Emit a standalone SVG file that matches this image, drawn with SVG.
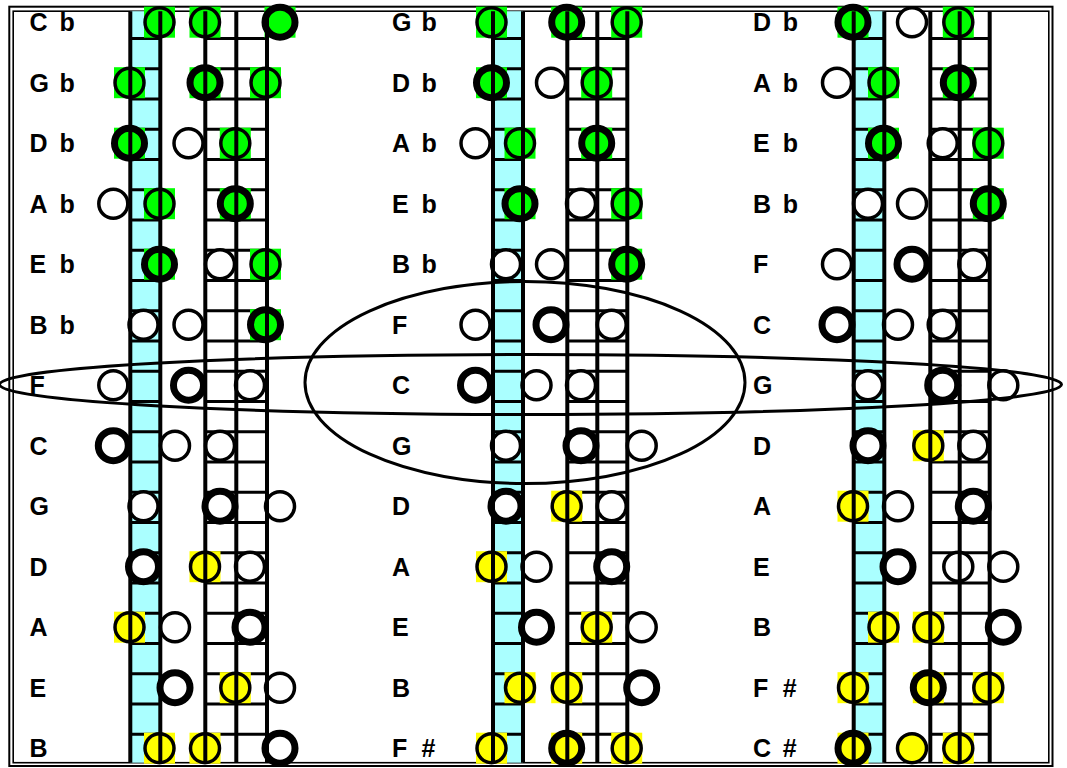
<svg xmlns="http://www.w3.org/2000/svg" xmlns:xlink="http://www.w3.org/1999/xlink" width="1067" height="768" viewBox="0 0 1067 768">
  <style>
    .frame-out{fill:none;stroke:#000;stroke-width:2}
    .frame-in{fill:none;stroke:#000;stroke-width:1.6}
    .lane{fill:#aaffff}
    .fret{fill:none;stroke:#000;stroke-width:3}
    .string{stroke:#000;stroke-width:4}
    .note{font-family:"Liberation Sans",Arial,sans-serif;font-weight:bold;font-size:25px;fill:#000}
    .hole{fill:#fff;stroke:#000;stroke-width:3.5}
    .hole.closed{stroke-width:7}
    .hole.g,.pad.g{fill:#00ff00}
    .hole.y,.pad.y{fill:#ffff00}
    .pad{stroke:none}
    .ring{fill:none;stroke:#000;stroke-width:3}
  </style>
  <defs>
    <!-- one set of cross bars, unit width; each use stretches it horizontally -->
    <path id="frets" class="fret" d="M0 38.5h1M0 68.75h1M0 99h1M0 129.25h1M0 159.5h1M0 189.75h1M0 220h1M0 250.25h1M0 280.5h1M0 310.75h1M0 341h1M0 371.25h1M0 401.5h1M0 431.75h1M0 462h1M0 492.25h1M0 522.5h1M0 552.75h1M0 583h1M0 613.25h1M0 643.5h1M0 673.75h1M0 704h1M0 734.25h1"/>
  </defs>

  <rect width="1067" height="768" fill="#fff"/>

  <!-- double frame -->
  <g id="frame">
    <rect class="frame-out" x="9.3" y="6.7" width="1043.2" height="759.3"/>
    <rect class="frame-in" x="13.2" y="11.2" width="1035.6" height="751.5"/>
  </g>

  <!-- ===== chart 1 : Cb ... B ===== -->
  <g id="chart-1">
    <rect class="lane" x="130.3" y="11.2" width="30" height="751.5"/>
    <use xlink:href="#frets" transform="translate(130.3 0) scale(30 1)"/>
    <use xlink:href="#frets" transform="translate(205.3 0) scale(61.7 1)"/>

    <g id="c1-cb">
      <text class="note" x="29.5" y="31">C</text><text class="note" x="59.5" y="31">b</text>
      <rect class="pad g" x="144" y="6.7" width="31" height="31"/>
      <rect class="pad g" x="189.5" y="6.7" width="31" height="31"/>
      <rect class="pad g" x="264.5" y="6.7" width="31" height="31"/>
      <circle class="hole g" cx="159.5" cy="22.2" r="14.5"/>
      <circle class="hole g" cx="205" cy="22.2" r="14.5"/>
      <circle class="hole g closed" cx="280" cy="22.2" r="15"/>
    </g>
    <g id="c1-gb">
      <text class="note" x="29.5" y="91.5">G</text><text class="note" x="59.5" y="91.5">b</text>
      <rect class="pad g" x="114" y="67.2" width="31" height="31"/>
      <rect class="pad g" x="189.5" y="67.2" width="31" height="31"/>
      <rect class="pad g" x="250" y="67.2" width="31" height="31"/>
      <circle class="hole g" cx="129.5" cy="82.7" r="14.5"/>
      <circle class="hole g closed" cx="205" cy="82.7" r="15"/>
      <circle class="hole g" cx="265.5" cy="82.7" r="14.5"/>
    </g>
    <g id="c1-db">
      <text class="note" x="29.5" y="152">D</text><text class="note" x="59.5" y="152">b</text>
      <rect class="pad g" x="114" y="127.7" width="31" height="31"/>
      <rect class="pad g" x="219.8" y="127.7" width="31" height="31"/>
      <circle class="hole g closed" cx="129.5" cy="143.2" r="15"/>
      <circle class="hole" cx="188.5" cy="143.2" r="14.5"/>
      <circle class="hole g" cx="235.3" cy="143.2" r="14.5"/>
    </g>
    <g id="c1-ab">
      <text class="note" x="29.5" y="212.5">A</text><text class="note" x="59.5" y="212.5">b</text>
      <rect class="pad g" x="144" y="188.2" width="31" height="31"/>
      <rect class="pad g" x="219.8" y="188.2" width="31" height="31"/>
      <circle class="hole" cx="113.3" cy="203.7" r="14.5"/>
      <circle class="hole g" cx="159.5" cy="203.7" r="14.5"/>
      <circle class="hole g closed" cx="235.3" cy="203.7" r="15"/>
    </g>
    <g id="c1-eb">
      <text class="note" x="29.5" y="273">E</text><text class="note" x="59.5" y="273">b</text>
      <rect class="pad g" x="144" y="248.7" width="31" height="31"/>
      <rect class="pad g" x="250" y="248.7" width="31" height="31"/>
      <circle class="hole g closed" cx="159.5" cy="264.2" r="15"/>
      <circle class="hole" cx="220" cy="264.2" r="14.5"/>
      <circle class="hole g" cx="265.5" cy="264.2" r="14.5"/>
    </g>
    <g id="c1-bb">
      <text class="note" x="29.5" y="333.5">B</text><text class="note" x="59.5" y="333.5">b</text>
      <rect class="pad g" x="250" y="309.2" width="31" height="31"/>
      <circle class="hole" cx="143.5" cy="324.7" r="14.5"/>
      <circle class="hole" cx="188.5" cy="324.7" r="14.5"/>
      <circle class="hole g closed" cx="265.5" cy="324.7" r="15"/>
    </g>
    <g id="c1-f">
      <text class="note" x="29.5" y="394">F</text>
      <circle class="hole" cx="113.3" cy="385.2" r="14.5"/>
      <circle class="hole closed" cx="188.5" cy="385.2" r="15"/>
      <circle class="hole" cx="250" cy="385.2" r="14.5"/>
    </g>
    <g id="c1-c">
      <text class="note" x="29.5" y="454.5">C</text>
      <circle class="hole closed" cx="113.3" cy="445.7" r="15"/>
      <circle class="hole" cx="175" cy="445.7" r="14.5"/>
      <circle class="hole" cx="220" cy="445.7" r="14.5"/>
    </g>
    <g id="c1-g">
      <text class="note" x="29.5" y="515">G</text>
      <circle class="hole" cx="143.5" cy="506.2" r="14.5"/>
      <circle class="hole closed" cx="220" cy="506.2" r="15"/>
      <circle class="hole" cx="280" cy="506.2" r="14.5"/>
    </g>
    <g id="c1-d">
      <text class="note" x="29.5" y="575.5">D</text>
      <rect class="pad y" x="189.5" y="551.2" width="31" height="31"/>
      <circle class="hole closed" cx="143.5" cy="566.7" r="15"/>
      <circle class="hole y" cx="205" cy="566.7" r="14.5"/>
      <circle class="hole" cx="250" cy="566.7" r="14.5"/>
    </g>
    <g id="c1-a">
      <text class="note" x="29.5" y="636">A</text>
      <rect class="pad y" x="114" y="611.7" width="31" height="31"/>
      <circle class="hole y" cx="129.5" cy="627.2" r="14.5"/>
      <circle class="hole" cx="175" cy="627.2" r="14.5"/>
      <circle class="hole closed" cx="250" cy="627.2" r="15"/>
    </g>
    <g id="c1-e">
      <text class="note" x="29.5" y="696.5">E</text>
      <rect class="pad y" x="219.8" y="672.2" width="31" height="31"/>
      <circle class="hole closed" cx="175" cy="687.7" r="15"/>
      <circle class="hole y" cx="235.3" cy="687.7" r="14.5"/>
      <circle class="hole" cx="280" cy="687.7" r="14.5"/>
    </g>
    <g id="c1-b">
      <text class="note" x="29.5" y="757">B</text>
      <rect class="pad y" x="144" y="732.7" width="31" height="31"/>
      <rect class="pad y" x="189.5" y="732.7" width="31" height="31"/>
      <circle class="hole y" cx="159.5" cy="748.2" r="14.5"/>
      <circle class="hole y" cx="205" cy="748.2" r="14.5"/>
      <circle class="hole closed" cx="280" cy="748.2" r="15"/>
    </g>

    <g id="c1-strings" class="string">
      <line x1="130.3" y1="11.2" x2="130.3" y2="762.7"/>
      <line x1="160.3" y1="11.2" x2="160.3" y2="762.7"/>
      <line x1="205.3" y1="11.2" x2="205.3" y2="762.7"/>
      <line x1="236.3" y1="11.2" x2="236.3" y2="762.7"/>
      <line x1="267" y1="11.2" x2="267" y2="762.7"/>
    </g>
  </g>

  <!-- ===== chart 2 : Gb ... F# ===== -->
  <g id="chart-2">
    <rect class="lane" x="493" y="11.2" width="30" height="751.5"/>
    <use xlink:href="#frets" transform="translate(493 0) scale(30 1)"/>
    <use xlink:href="#frets" transform="translate(567.3 0) scale(60 1)"/>

    <g id="c2-gb">
      <text class="note" x="392" y="31">G</text><text class="note" x="421.6" y="31">b</text>
      <rect class="pad g" x="476" y="6.7" width="31" height="31"/>
      <rect class="pad g" x="551.2" y="6.7" width="31" height="31"/>
      <rect class="pad g" x="611.2" y="6.7" width="31" height="31"/>
      <circle class="hole g" cx="491.5" cy="22.2" r="14.5"/>
      <circle class="hole g closed" cx="566.7" cy="22.2" r="15"/>
      <circle class="hole g" cx="626.7" cy="22.2" r="14.5"/>
    </g>
    <g id="c2-db">
      <text class="note" x="392" y="91.5">D</text><text class="note" x="421.6" y="91.5">b</text>
      <rect class="pad g" x="476" y="67.2" width="31" height="31"/>
      <rect class="pad g" x="581.2" y="67.2" width="31" height="31"/>
      <circle class="hole g closed" cx="491.5" cy="82.7" r="15"/>
      <circle class="hole" cx="551" cy="82.7" r="14.5"/>
      <circle class="hole g" cx="596.7" cy="82.7" r="14.5"/>
    </g>
    <g id="c2-ab">
      <text class="note" x="392" y="152">A</text><text class="note" x="421.6" y="152">b</text>
      <rect class="pad g" x="504.5" y="127.7" width="31" height="31"/>
      <rect class="pad g" x="581.2" y="127.7" width="31" height="31"/>
      <circle class="hole" cx="475.5" cy="143.2" r="14.5"/>
      <circle class="hole g" cx="520" cy="143.2" r="14.5"/>
      <circle class="hole g closed" cx="596.7" cy="143.2" r="15"/>
    </g>
    <g id="c2-eb">
      <text class="note" x="392" y="212.5">E</text><text class="note" x="421.6" y="212.5">b</text>
      <rect class="pad g" x="504.5" y="188.2" width="31" height="31"/>
      <rect class="pad g" x="611.2" y="188.2" width="31" height="31"/>
      <circle class="hole g closed" cx="520" cy="203.7" r="15"/>
      <circle class="hole" cx="581" cy="203.7" r="14.5"/>
      <circle class="hole g" cx="626.7" cy="203.7" r="14.5"/>
    </g>
    <g id="c2-bb">
      <text class="note" x="392" y="273">B</text><text class="note" x="421.6" y="273">b</text>
      <rect class="pad g" x="611.2" y="248.7" width="31" height="31"/>
      <circle class="hole" cx="506" cy="264.2" r="14.5"/>
      <circle class="hole" cx="551" cy="264.2" r="14.5"/>
      <circle class="hole g closed" cx="626.7" cy="264.2" r="15"/>
    </g>
    <g id="c2-f">
      <text class="note" x="392" y="333.5">F</text>
      <circle class="hole" cx="475.5" cy="324.7" r="14.5"/>
      <circle class="hole closed" cx="551" cy="324.7" r="15"/>
      <circle class="hole" cx="611.7" cy="324.7" r="14.5"/>
    </g>
    <g id="c2-c">
      <text class="note" x="392" y="394">C</text>
      <circle class="hole closed" cx="475.5" cy="385.2" r="15"/>
      <circle class="hole" cx="536.5" cy="385.2" r="14.5"/>
      <circle class="hole" cx="581" cy="385.2" r="14.5"/>
    </g>
    <g id="c2-g">
      <text class="note" x="392" y="454.5">G</text>
      <circle class="hole" cx="506" cy="445.7" r="14.5"/>
      <circle class="hole closed" cx="581" cy="445.7" r="15"/>
      <circle class="hole" cx="641.7" cy="445.7" r="14.5"/>
    </g>
    <g id="c2-d">
      <text class="note" x="392" y="515">D</text>
      <rect class="pad y" x="551.2" y="490.7" width="31" height="31"/>
      <circle class="hole closed" cx="506" cy="506.2" r="15"/>
      <circle class="hole y" cx="566.7" cy="506.2" r="14.5"/>
      <circle class="hole" cx="611.7" cy="506.2" r="14.5"/>
    </g>
    <g id="c2-a">
      <text class="note" x="392" y="575.5">A</text>
      <rect class="pad y" x="476" y="551.2" width="31" height="31"/>
      <circle class="hole y" cx="491.5" cy="566.7" r="14.5"/>
      <circle class="hole" cx="536.5" cy="566.7" r="14.5"/>
      <circle class="hole closed" cx="611.7" cy="566.7" r="15"/>
    </g>
    <g id="c2-e">
      <text class="note" x="392" y="636">E</text>
      <rect class="pad y" x="581.2" y="611.7" width="31" height="31"/>
      <circle class="hole closed" cx="536.5" cy="627.2" r="15"/>
      <circle class="hole y" cx="596.7" cy="627.2" r="14.5"/>
      <circle class="hole" cx="641.7" cy="627.2" r="14.5"/>
    </g>
    <g id="c2-b">
      <text class="note" x="392" y="696.5">B</text>
      <rect class="pad y" x="504.5" y="672.2" width="31" height="31"/>
      <rect class="pad y" x="551.2" y="672.2" width="31" height="31"/>
      <circle class="hole y" cx="520" cy="687.7" r="14.5"/>
      <circle class="hole y" cx="566.7" cy="687.7" r="14.5"/>
      <circle class="hole closed" cx="641.7" cy="687.7" r="15"/>
    </g>
    <g id="c2-fs">
      <text class="note" x="392" y="757">F</text><text class="note" x="421.6" y="757">#</text>
      <rect class="pad y" x="476" y="732.7" width="31" height="31"/>
      <rect class="pad y" x="551.2" y="732.7" width="31" height="31"/>
      <rect class="pad y" x="611.2" y="732.7" width="31" height="31"/>
      <circle class="hole y" cx="491.5" cy="748.2" r="14.5"/>
      <circle class="hole y closed" cx="566.7" cy="748.2" r="15"/>
      <circle class="hole y" cx="626.7" cy="748.2" r="14.5"/>
    </g>

    <g id="c2-strings" class="string">
      <line x1="493" y1="11.2" x2="493" y2="762.7"/>
      <line x1="523" y1="11.2" x2="523" y2="762.7"/>
      <line x1="567.3" y1="11.2" x2="567.3" y2="762.7"/>
      <line x1="597.3" y1="11.2" x2="597.3" y2="762.7"/>
      <line x1="627.3" y1="11.2" x2="627.3" y2="762.7"/>
    </g>
  </g>

  <!-- ===== chart 3 : Db ... C# ===== -->
  <g id="chart-3">
    <rect class="lane" x="853.7" y="11.2" width="30.6" height="751.5"/>
    <use xlink:href="#frets" transform="translate(853.7 0) scale(30.6 1)"/>
    <use xlink:href="#frets" transform="translate(930.3 0) scale(59.4 1)"/>

    <g id="c3-db">
      <text class="note" x="753" y="31">D</text><text class="note" x="782.8" y="31">b</text>
      <rect class="pad g" x="837.5" y="6.7" width="31" height="31"/>
      <rect class="pad g" x="942.8" y="6.7" width="31" height="31"/>
      <circle class="hole g closed" cx="853" cy="22.2" r="15"/>
      <circle class="hole" cx="912" cy="22.2" r="14.5"/>
      <circle class="hole g" cx="958.3" cy="22.2" r="14.5"/>
    </g>
    <g id="c3-ab">
      <text class="note" x="753" y="91.5">A</text><text class="note" x="782.8" y="91.5">b</text>
      <rect class="pad g" x="868" y="67.2" width="31" height="31"/>
      <rect class="pad g" x="942.8" y="67.2" width="31" height="31"/>
      <circle class="hole" cx="837" cy="82.7" r="14.5"/>
      <circle class="hole g" cx="883.5" cy="82.7" r="14.5"/>
      <circle class="hole g closed" cx="958.3" cy="82.7" r="15"/>
    </g>
    <g id="c3-eb">
      <text class="note" x="753" y="152">E</text><text class="note" x="782.8" y="152">b</text>
      <rect class="pad g" x="868" y="127.7" width="31" height="31"/>
      <rect class="pad g" x="972.8" y="127.7" width="31" height="31"/>
      <circle class="hole g closed" cx="883.5" cy="143.2" r="15"/>
      <circle class="hole" cx="942.7" cy="143.2" r="14.5"/>
      <circle class="hole g" cx="988.3" cy="143.2" r="14.5"/>
    </g>
    <g id="c3-bb">
      <text class="note" x="753" y="212.5">B</text><text class="note" x="782.8" y="212.5">b</text>
      <rect class="pad g" x="972.8" y="188.2" width="31" height="31"/>
      <circle class="hole" cx="868" cy="203.7" r="14.5"/>
      <circle class="hole" cx="912" cy="203.7" r="14.5"/>
      <circle class="hole g closed" cx="988.3" cy="203.7" r="15"/>
    </g>
    <g id="c3-f">
      <text class="note" x="753" y="273">F</text>
      <circle class="hole" cx="837" cy="264.2" r="14.5"/>
      <circle class="hole closed" cx="912" cy="264.2" r="15"/>
      <circle class="hole" cx="973.3" cy="264.2" r="14.5"/>
    </g>
    <g id="c3-c">
      <text class="note" x="753" y="333.5">C</text>
      <circle class="hole closed" cx="837" cy="324.7" r="15"/>
      <circle class="hole" cx="898" cy="324.7" r="14.5"/>
      <circle class="hole" cx="942.7" cy="324.7" r="14.5"/>
    </g>
    <g id="c3-g">
      <text class="note" x="753" y="394">G</text>
      <circle class="hole" cx="868" cy="385.2" r="14.5"/>
      <circle class="hole closed" cx="942.7" cy="385.2" r="15"/>
      <circle class="hole" cx="1003.3" cy="385.2" r="14.5"/>
    </g>
    <g id="c3-d">
      <text class="note" x="753" y="454.5">D</text>
      <rect class="pad y" x="912.8" y="430.2" width="31" height="31"/>
      <circle class="hole closed" cx="868" cy="445.7" r="15"/>
      <circle class="hole y" cx="928.3" cy="445.7" r="14.5"/>
      <circle class="hole" cx="973.3" cy="445.7" r="14.5"/>
    </g>
    <g id="c3-a">
      <text class="note" x="753" y="515">A</text>
      <rect class="pad y" x="837.5" y="490.7" width="31" height="31"/>
      <circle class="hole y" cx="853" cy="506.2" r="14.5"/>
      <circle class="hole" cx="898" cy="506.2" r="14.5"/>
      <circle class="hole closed" cx="973.3" cy="506.2" r="15"/>
    </g>
    <g id="c3-e">
      <text class="note" x="753" y="575.5">E</text>
      <circle class="hole closed" cx="898" cy="566.7" r="15"/>
      <circle class="hole" cx="958.3" cy="566.7" r="14.5"/>
      <circle class="hole" cx="1003.3" cy="566.7" r="14.5"/>
    </g>
    <g id="c3-b">
      <text class="note" x="753" y="636">B</text>
      <rect class="pad y" x="868" y="611.7" width="31" height="31"/>
      <rect class="pad y" x="912.8" y="611.7" width="31" height="31"/>
      <circle class="hole y" cx="883.5" cy="627.2" r="14.5"/>
      <circle class="hole y" cx="928.3" cy="627.2" r="14.5"/>
      <circle class="hole closed" cx="1003.3" cy="627.2" r="15"/>
    </g>
    <g id="c3-fs">
      <text class="note" x="753" y="696.5">F</text><text class="note" x="782.8" y="696.5">#</text>
      <rect class="pad y" x="837.5" y="672.2" width="31" height="31"/>
      <rect class="pad y" x="912.8" y="672.2" width="31" height="31"/>
      <rect class="pad y" x="972.8" y="672.2" width="31" height="31"/>
      <circle class="hole y" cx="853" cy="687.7" r="14.5"/>
      <circle class="hole y closed" cx="928.3" cy="687.7" r="15"/>
      <circle class="hole y" cx="988.3" cy="687.7" r="14.5"/>
    </g>
    <g id="c3-cs">
      <text class="note" x="753" y="757">C</text><text class="note" x="782.8" y="757">#</text>
      <rect class="pad y" x="837.5" y="732.7" width="31" height="31"/>
      <rect class="pad y" x="942.8" y="732.7" width="31" height="31"/>
      <circle class="hole y closed" cx="853" cy="748.2" r="15"/>
      <circle class="hole y" cx="912" cy="748.2" r="14.5"/>
      <circle class="hole y" cx="958.3" cy="748.2" r="14.5"/>
    </g>

    <g id="c3-strings" class="string">
      <line x1="853.7" y1="11.2" x2="853.7" y2="762.7"/>
      <line x1="884.3" y1="11.2" x2="884.3" y2="762.7"/>
      <line x1="930.3" y1="11.2" x2="930.3" y2="762.7"/>
      <line x1="959.7" y1="11.2" x2="959.7" y2="762.7"/>
      <line x1="989.7" y1="11.2" x2="989.7" y2="762.7"/>
    </g>
  </g>

  <!-- highlight rings -->
  <g id="rings">
    <ellipse class="ring" cx="530.5" cy="384.5" rx="531" ry="30"/>
    <ellipse class="ring" cx="525" cy="382.5" rx="220" ry="101"/>
  </g>
</svg>
